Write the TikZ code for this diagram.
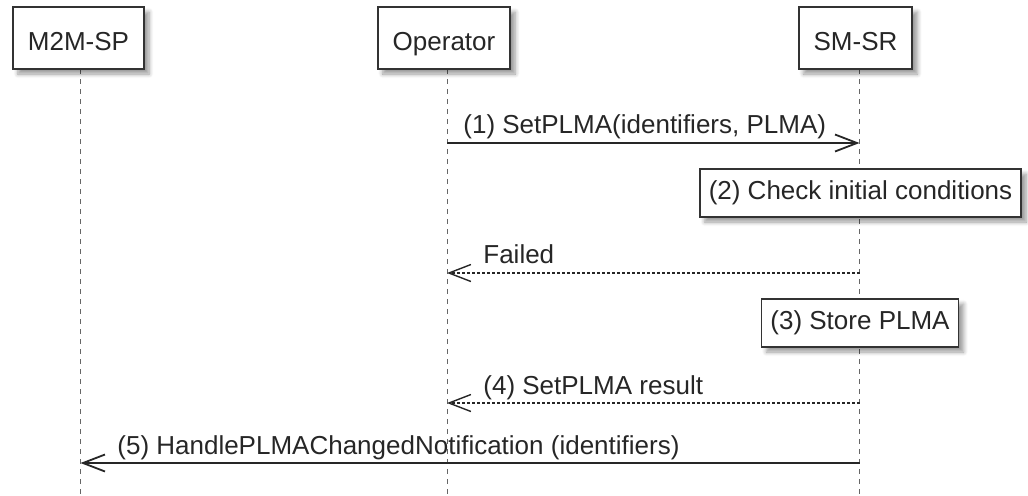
\documentclass[tikz,border=0pt]{standalone}
\usepackage{fontspec}
\setmainfont{Liberation Sans}
\usetikzlibrary{arrows.meta,shadows.blur}

\begin{document}
\begin{tikzpicture}[x=0.5pt,y=-0.5pt,
    font=\fontsize{13pt}{15pt}\selectfont,
    actor node/.style={draw=black!80,line width=1pt,fill=white,minimum height=31pt,inner xsep=7.5pt,text=black!85,
      text height=12.5pt,text depth=0pt,
      blur shadow={shadow xshift=2.5pt,shadow yshift=-2.5pt,shadow blur steps=6}},
    note node/.style={draw=black!80,line width=0.8pt,fill=white,minimum height=24pt,inner xsep=4.5pt,text=black!85,
      blur shadow={shadow xshift=2.5pt,shadow yshift=-2.5pt,shadow blur steps=6}},
    lifeline/.style={draw=black!60,line width=0.5pt,dash pattern=on 2.5pt off 2.5pt},
    sync msg/.style={draw=black!85,line width=0.9pt,-{Straight Barb[length=11pt,width=8.5pt]}},
    reply msg/.style={sync msg,line width=0.7pt,dash pattern=on 1.5pt off 1pt},
    msg label/.style={anchor=base west,inner sep=0pt,text=black!85} ]
    \useasboundingbox (0,0) rectangle (1028,495);
    % lifelines
    \coordinate (mtop) at (80.5,69);  \coordinate (mbot) at (80.5,495);
    \coordinate (otop) at (447,69);   \coordinate (obot) at (447,495);
    \coordinate (stop) at (859.5,69); \coordinate (sbot) at (859.5,495);
    \draw [lifeline] (mtop) -- (mbot);
    \draw [lifeline] (otop) -- (obot);
    \draw [lifeline] (stop) -- (sbot);
    \node at (78.5,38) [actor node] (M2M) {M2M-SP};
    \node at (444,38) [actor node] (Op) {Operator};
    \node at (855.5,38) [actor node] (SMSR) {SM-SR};
    % (1)
    \coordinate (o1) at (447,143);
    \coordinate (s1) at (859.5,143);
    \draw [sync msg] (o1) -- (s1);
    \node at (463,133) [msg label] (l1) {(1) SetPLMA(identifiers, PLMA)};
    % (2)
    \node at (860.5,193) [note node] (n2) {(2) Check initial conditions};
    \coordinate (s2) at (859.5,273);
    \coordinate (o2) at (447,273);
    \draw [reply msg] (s2) -- (o2);
    \node at (483,263) [msg label] (l2) {Failed};
    % (3)
    \node at (860,323) [note node] (n3) {(3) Store PLMA};
    % (4)
    \coordinate (s4) at (859.5,403);
    \coordinate (o4) at (447,403);
    \draw [reply msg] (s4) -- (o4);
    \node at (483,394) [msg label] (l4) {(4) SetPLMA result};
    % (5)
    \coordinate (s5) at (859.5,463);
    \coordinate (m5) at (80.5,463);
    \draw [sync msg] (s5) -- (m5);
    \node at (117,454) [msg label] (l5) {(5) HandlePLMAChangedNotification (identifiers)};
\end{tikzpicture}
\end{document}
